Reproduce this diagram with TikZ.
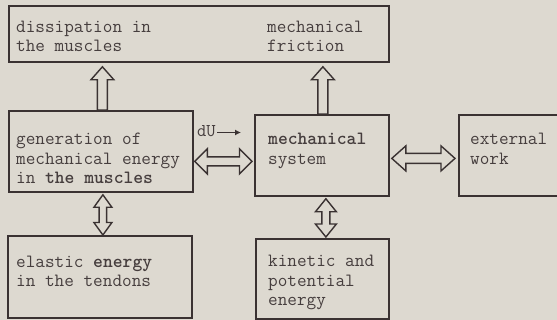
\documentclass[tikz,border=0pt]{standalone}
\usetikzlibrary{calc,arrows.meta}
\definecolor{bg}{RGB}{221,217,208}
\definecolor{ink}{RGB}{58,50,50}
\definecolor{txt}{RGB}{70,62,62}
% single hollow arrow: #1 start, #2 tip, #3 half head width, #4 head length, #5 half shaft width
\newcommand\hollowsingle[5]{\draw[hollow] ($(#1)!#5!90:(#2)$) -- ($(#2)!#4!(#1)!#5!90:(#2)$) -- ($(#2)!#4!(#1)!#3!90:(#2)$) -- (#2) -- ($(#2)!#4!(#1)!#3!-90:(#2)$) -- ($(#2)!#4!(#1)!#5!-90:(#2)$) -- ($(#1)!#5!-90:(#2)$) -- cycle;}
% double hollow arrow
\newcommand\hollowdouble[5]{\draw[hollow] (#1) -- ($(#1)!#4!(#2)!#3!90:(#2)$) -- ($(#1)!#4!(#2)!#5!90:(#2)$) -- ($(#2)!#4!(#1)!#5!90:(#2)$) -- ($(#2)!#4!(#1)!#3!90:(#2)$) -- (#2) -- ($(#2)!#4!(#1)!#3!-90:(#2)$) -- ($(#2)!#4!(#1)!#5!-90:(#2)$) -- ($(#1)!#4!(#2)!#5!-90:(#2)$) -- ($(#1)!#4!(#2)!#3!-90:(#2)$) -- cycle;}
\tikzset{
  box/.style={draw=ink, line width=1.8pt, inner sep=0pt, anchor=north west},
  lbl/.style={anchor=north west, inner sep=0pt, align=left, text=txt,
    font=\ttfamily\fontsize{18.7}{19.5}\selectfont},
  hollow/.style={draw=ink, line width=1.4pt, fill=bg, line join=miter},
}
\begin{document}
\begin{tikzpicture}[x=1pt,y=-1pt]
\useasboundingbox (0,0) rectangle (557,320);
\clip (0,0) rectangle (557,320);
\fill[bg] (0,0) rectangle (557,320);
% boxes
\node[box, minimum width=380pt, minimum height=56pt] (top) at (8,5) {};
\node[box, minimum width=184pt, minimum height=81pt] (gen) at (8,110) {};
\node[box, minimum width=134pt, minimum height=81pt] (mech) at (254,114) {};
\node[box, minimum width=120pt, minimum height=81pt] (ext) at (458,114) {};
\node[box, minimum width=184pt, minimum height=82pt] (elastic) at (7,235) {};
\node[box, minimum width=133pt, minimum height=80pt] (kinetic) at (255,238) {};
% texts
\node[lbl] (tdiss) at (16,18.4) {\strut dissipation in\\the muscles};
\node[lbl] (tfric) at (267,18.4) {\strut mechanical\\friction};
\node[lbl] (tgen) at (16,131) {\strut generation of\\mechanical energy\\in \textbf{the muscles}};
\node[lbl] (tmech) at (268,131) {\strut\textbf{mechanical}\\system};
\node[lbl] (text) at (470,131) {\strut external\\work};
\node[lbl] (tel) at (16,253.4) {\strut elastic \textbf{energy}\\in the tendons};
\node[lbl] (tkin) at (268,253) {\strut kinetic and\\potential\\energy};
% dU label
\node[anchor=base west, inner sep=0pt, text=txt, font=\ttfamily\fontsize{18}{19}\selectfont] (du) at (197,136.5) {dU};
\coordinate (duend) at (241,132.5);
\draw[ink, line width=1.2pt, -{Latex[length=6pt,width=6pt]}] ($(du.base east)+(1.5,-4)$) -- (duend);
% arrow end points
\coordinate (a1s) at ($(gen.north)+(1.5,0)$);
\coordinate (a1e) at ($(top.south -| a1s)+(0,4)$);
\coordinate (a2s) at ($(mech.north)+(1,0)$);
\coordinate (a2e) at ($(top.south -| a2s)+(0,4)$);
\coordinate (a3s) at ($(gen.east)+(1,10)$);
\coordinate (a3e) at ($(a3s -| mech.west)+(-2,0)$);
\coordinate (a4s) at ($(mech.east)+(2,3)$);
\coordinate (a4e) at ($(a4s -| ext.west)+(-3,0)$);
\coordinate (a5s) at ($(gen.south)+(2,2)$);
\coordinate (a5e) at (a5s |- elastic.north);
\coordinate (a6s) at ($(mech.south)+(4,2)$);
\coordinate (a6e) at ($(a6s |- kinetic.north)+(0,-1)$);
% arrows
\hollowsingle{a1s}{a1e}{11.5pt}{13pt}{5pt}
\hollowsingle{a2s}{a2e}{11.5pt}{13pt}{5pt}
\hollowdouble{a3s}{a3e}{12.5pt}{12.5pt}{4.5pt}
\hollowdouble{a4s}{a4e}{12.5pt}{14pt}{5pt}
\hollowdouble{a5s}{a5e}{9pt}{12.5pt}{3.75pt}
\hollowdouble{a6s}{a6e}{10.5pt}{13pt}{4pt}
\end{tikzpicture}
\end{document}
